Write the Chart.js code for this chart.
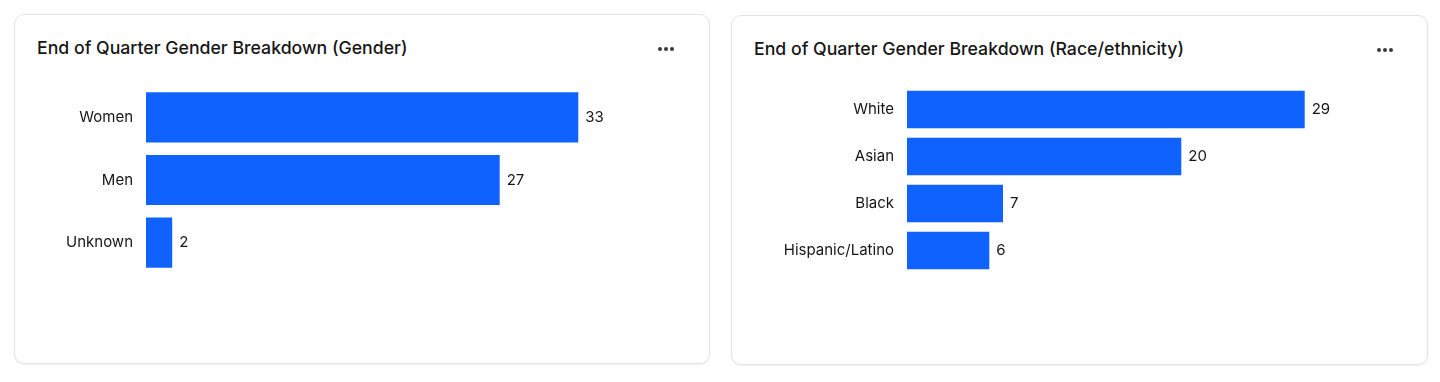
<!DOCTYPE html>
<html><head><meta charset="utf-8">
<script src="https://cdn.jsdelivr.net/npm/chart.js@4"></script>
<style>
html,body{margin:0;padding:0;background:#fff;width:1440px;height:382px;overflow:hidden;font-family:Inter,"Noto Sans",sans-serif;}
.card{position:absolute;box-sizing:border-box;border:1px solid #e4e4e4;border-radius:10px;background:#fff;box-shadow:0 1px 2px rgba(0,0,0,0.07);}
.title{position:absolute;left:22px;top:22px;font-size:17.7px;font-weight:500;color:#161616;line-height:22px;white-space:nowrap;}
.dots{position:absolute;top:32px;height:4px;width:18px;}
.dots span{position:absolute;top:0;width:4px;height:4px;border-radius:50%;background:#3a3a3a;}
.holder{position:absolute;left:0;top:49px;height:232px;}
</style>
</head><body>
<div class="card" style="left:14px;top:14px;width:696px;height:350px;">
  <div class="title">End of Quarter Gender Breakdown (Gender)</div>
  <div class="dots" style="left:643px;"><span style="left:0"></span><span style="left:6px"></span><span style="left:12px"></span></div>
  <div class="holder" style="width:694px;"><canvas id="c1"></canvas></div>
</div>
<div class="card" style="left:731px;top:15px;width:697px;height:350px;">
  <div class="title">End of Quarter Gender Breakdown (Race/ethnicity)</div>
  <div class="dots" style="left:645px;"><span style="left:0"></span><span style="left:6px"></span><span style="left:12px"></span></div>
  <div class="holder" style="top:48px;width:695px;"><canvas id="c2"></canvas></div>
</div>
<script>
const genderCategories = ["Women", "Men", "Unknown"];
const genderValues = [33, 27, 2];
const raceCategories = ["White", "Asian", "Black", "Hispanic/Latino"];
const raceValues = [29, 20, 7, 6];

const BAR_COLOR = "#0f62fe";
const TEXT_COLOR = "#161616";
const FONT = "Inter, 'Noto Sans', sans-serif";

const valueLabels = {
  id: "valueLabels",
  afterDatasetsDraw(chart) {
    const ctx = chart.ctx;
    ctx.save();
    ctx.font = "15px " + FONT;
    ctx.fillStyle = TEXT_COLOR;
    ctx.textAlign = "left";
    ctx.textBaseline = "middle";
    chart.data.datasets.forEach((ds, di) => {
      chart.getDatasetMeta(di).data.forEach((bar, i) => {
        ctx.fillText(String(ds.data[i]), bar.x + 7, bar.y);
      });
    });
    ctx.restore();
  }
};

function makeChart(id, labels, values, axisWidth, xMax, padRight) {
  return new Chart(document.getElementById(id), {
    type: "bar",
    data: {
      labels: labels,
      datasets: [{
        data: values,
        backgroundColor: BAR_COLOR,
        borderWidth: 0,
        barPercentage: 0.8,
        categoryPercentage: 1.0
      }]
    },
    options: {
      indexAxis: "y",
      responsive: true,
      maintainAspectRatio: false,
      animation: false,
      layout: { padding: { top: 15, bottom: 15, right: padRight, left: 0 } },
      plugins: { legend: { display: false }, tooltip: { enabled: false } },
      scales: {
        x: { display: false, min: 0, max: xMax },
        y: {
          grid: { display: false, drawTicks: false },
          border: { display: false },
          ticks: { color: TEXT_COLOR, font: { family: FONT, size: 15 }, padding: 13 },
          afterFit(scale) { scale.width = axisWidth; }
        }
      }
    },
    plugins: [valueLabels]
  });
}

makeChart("c1", genderCategories, genderValues, 131, 40, 39);
makeChart("c2", raceCategories, raceValues, 175, 35, 40);
</script>
</body></html>
